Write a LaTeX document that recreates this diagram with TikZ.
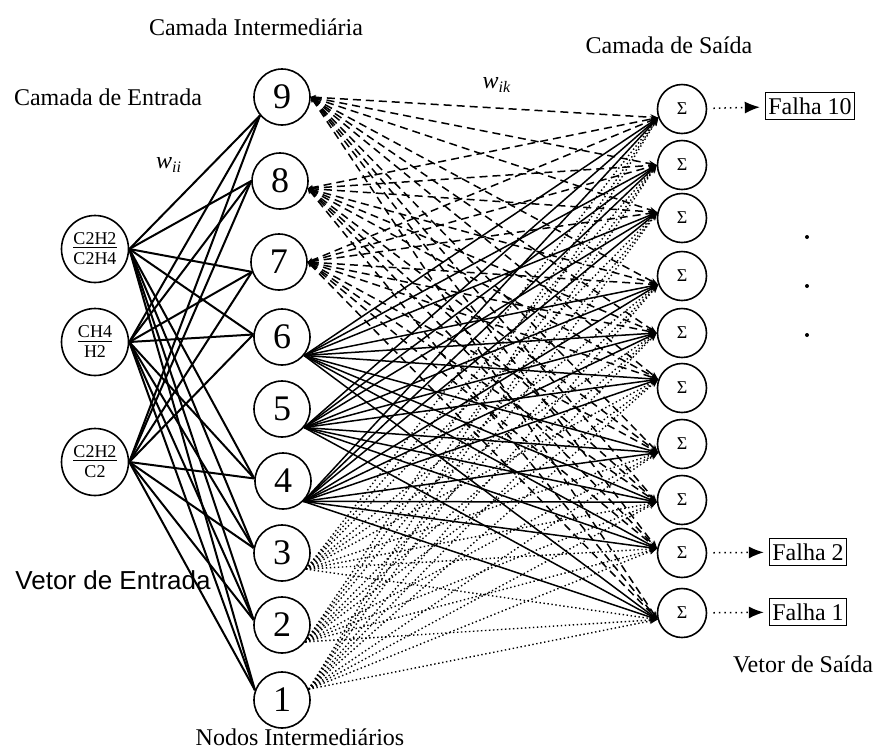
\documentclass[tikz,border=0pt]{standalone}
\usepackage{fontspec}
\setmainfont{Liberation Serif}
\newfontfamily\arialfont{Liberation Sans}
\usetikzlibrary{arrows.meta}

\begin{document}
\begin{tikzpicture}[
		x=0.5pt, y=-0.5pt,
		font=\fontsize{12}{14}\selectfont,
		innode/.style={circle, draw, line width=0.8pt, minimum size=33.5pt, inner sep=0pt, align=center, font=\fontsize{9}{10}\selectfont},
		hidnode/.style={circle, draw, line width=0.8pt, minimum size=28pt, inner sep=0pt, font=\fontsize{18}{18}\selectfont},
		sumnode/.style={circle, draw, line width=0.8pt, minimum size=24.5pt, inner sep=0pt, font=\fontsize{9}{9}\selectfont},
		falhabox/.style={rectangle, draw, line width=0.5pt, inner xsep=1.5pt, inner ysep=0pt, minimum height=13.5pt},
		dot/.style={circle, fill, inner sep=0pt, minimum size=2pt},
		link/.style={line width=1pt},
		dasharrow/.style={line width=0.75pt, dash pattern=on 4pt off 2.5pt, {Stealth[length=2.5pt, width=2.5pt]}-{Stealth[length=4pt, width=3pt]}},
		solidarrow/.style={line width=0.75pt, -{Stealth[length=4pt, width=3pt]}},
		dotarrow/.style={line width=0.7pt, dash pattern=on 0.7pt off 1.3pt, -{Stealth[length=4pt, width=3pt]}},
		falharrow/.style={line width=0.75pt, dotted, -{Latex[length=7.5pt, width=6pt]}, shorten <=3pt, shorten >=2.5pt}
		]
		\useasboundingbox (0,0) rectangle (875,751);
		
		% Labels
		\node (camint) at (256,27) {Camada Intermediária};
		\node (cament) at (108,97) {Camada de Entrada};
		\node (camsai) at (669,45) {Camada de Saída};
		\node (wii) at (169,165) {\textit{w}\textsubscript{\textit{ii}}};
		\node (wik) at (497,85) {\textit{w}\textsubscript{\textit{ik}}};
		\node (vetent) at (113,580) {\arialfont\fontsize{13}{15}\selectfont Vetor de Entrada};
		\node (vetsai) at (803,664) {Vetor de Saída};
		\node (nodint) at (300,737) {Nodos Intermediários};
		
		% Input nodes
		\node[innode] (in1) at (95,249) {\underline{C2H2}\\C2H4};
		\node[innode] (in2) at (95,342) {\underline{CH4}\\H2};
		\node[innode] (in3) at (95,462) {\underline{C2H2}\\C2};
		
		% Hidden nodes
		\node[hidnode] (h9) at (282,97) {9};
		\node[hidnode] (h8) at (280,181) {8};
		\node[hidnode] (h7) at (279,262) {7};
		\node[hidnode] (h6) at (282,337) {6};
		\node[hidnode] (h5) at (282,409) {5};
		\node[hidnode] (h4) at (283,481) {4};
		\node[hidnode] (h3) at (282,553) {3};
		\node[hidnode] (h2) at (282,625) {2};
		\node[hidnode] (h1) at (282,700) {1};
		
		% Output nodes
		\node[sumnode] (s10) at (682,109) {Σ};
		\node[sumnode] (s9) at (682,165) {Σ};
		\node[sumnode] (s8) at (682,218) {Σ};
		\node[sumnode] (s7) at (682,276) {Σ};
		\node[sumnode] (s6) at (682,333) {Σ};
		\node[sumnode] (s5) at (682,388) {Σ};
		\node[sumnode] (s4) at (682,444) {Σ};
		\node[sumnode] (s3) at (682,500) {Σ};
		\node[sumnode] (s2) at (682,553) {Σ};
		\node[sumnode] (s1) at (682,613) {Σ};
		
		\node[falhabox] (falha10) at (810,106) {Falha 10};
		\node[falhabox] (falha2) at (808,552) {Falha 2};
		\node[falhabox] (falha1) at (808,612) {Falha 1};
		
		\node[dot] (dot1) at (807,237) {};
		\node[dot] (dot2) at (807,286) {};
		\node[dot] (dot3) at (807,335) {};
		
		% Input to hidden
		\foreach \i in {1,2,3}
			\foreach \h/\a in {9/220, 8/180, 7/200, 6/175, 4/175, 3/170, 2/170, 1/160}
				\draw[link] (in\i.east) -- (h\h.\a);
		
		% Hidden to output
		\foreach \h/\a in {9/0, 8/-15, 7/0}
			\foreach \k/\b in {10/200, 9/180, 8/167, 7/200, 6/180, 5/160, 4/200, 3/185, 2/170, 1/195}
				\draw[dasharrow] (h\h.\a) -- (s\k.\b);
		\foreach \h/\a in {6/-40, 5/-40, 4/-45}
			\foreach \k/\b in {10/200, 9/180, 8/167, 7/200, 6/180, 5/160, 4/200, 3/185, 2/170, 1/195}
				\draw[solidarrow] (h\h.\a) -- (s\k.\b);
		\foreach \h/\a in {3/-34, 2/-36, 1/22}
			\foreach \k/\b in {10/200, 9/180, 8/167, 7/200, 6/180, 5/160, 4/200, 3/185, 2/170, 1/195}
				\draw[dotarrow] (h\h.\a) -- (s\k.\b);
		
		% Outputs
		\draw[falharrow] (s10) -- (falha10);
		\draw[falharrow] (s2) -- (falha2);
		\draw[falharrow] (s1) -- (falha1);
		
	\end{tikzpicture}
\end{document}
